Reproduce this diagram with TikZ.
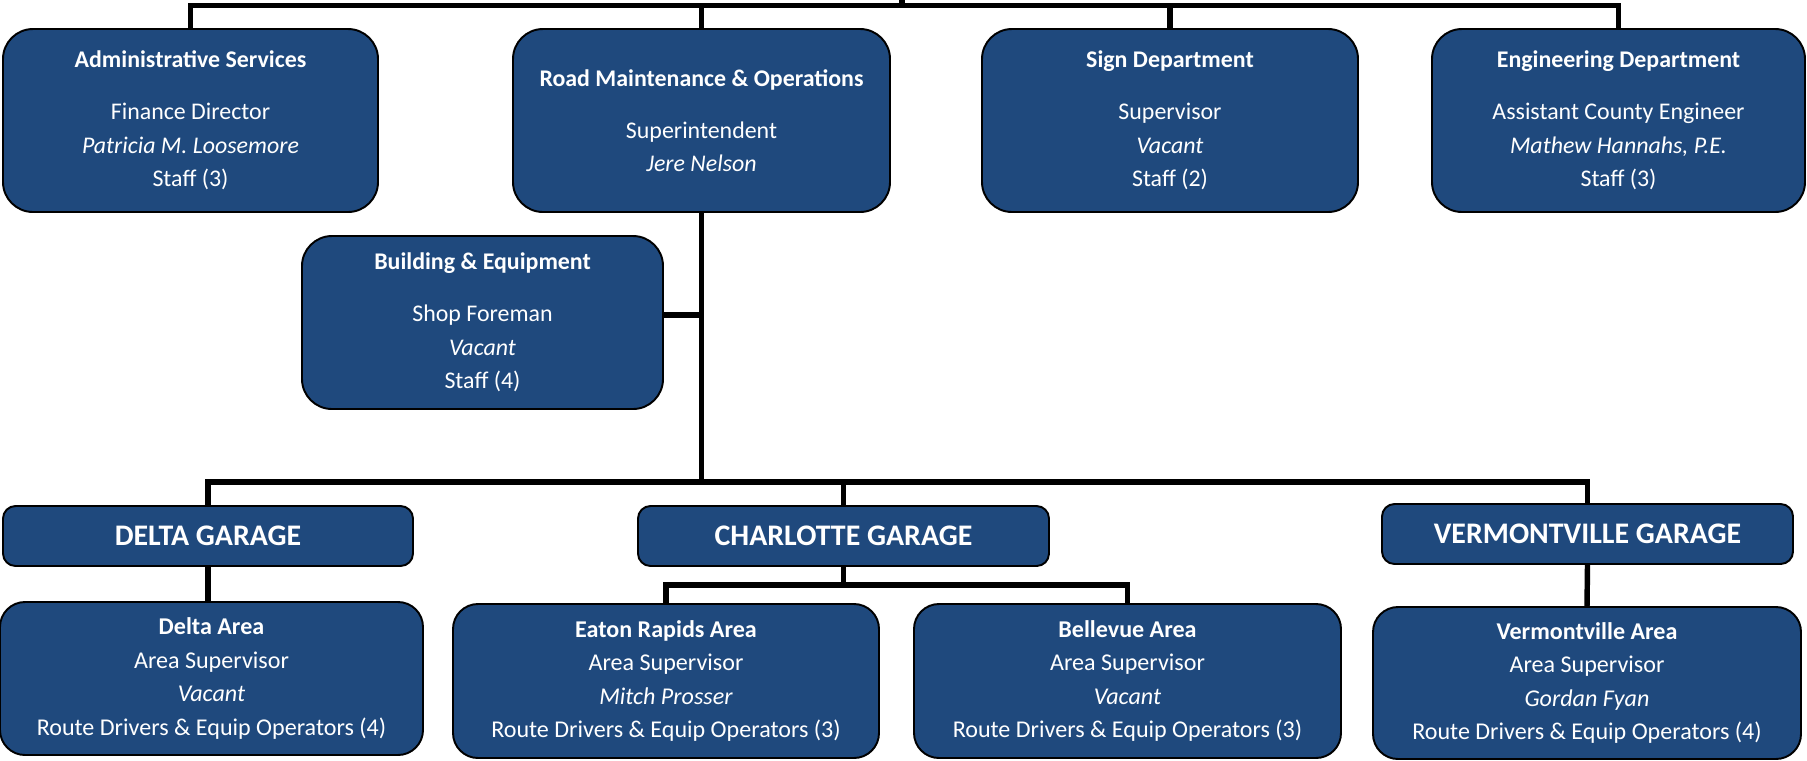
\documentclass[tikz,border=0pt]{standalone}
\usepackage{fontspec}
\setmainfont{Carlito}
\usepackage{tikz}
\definecolor{countyblue}{RGB}{31,73,125}

\begin{document}
\begin{tikzpicture}[dept/.style={draw=black,line width=1.1pt,fill=countyblue,text=white,align=center,inner sep=0pt,
		rounded corners=0.6cm,minimum width=7.5cm,minimum height=3.66cm,font=\fontsize{13.6}{19}\selectfont},
	garage/.style={draw=black,line width=1.1pt,fill=countyblue,text=white,inner sep=0pt,
		rounded corners=0.25cm,minimum width=8.2cm,minimum height=1.2cm,font=\bfseries\fontsize{17}{20}\selectfont},
	area/.style={draw=black,line width=1.1pt,fill=countyblue,text=white,align=center,inner sep=0pt,
		rounded corners=0.5cm,minimum width=8.5cm,minimum height=3.06cm,font=\fontsize{13.7}{19}\selectfont},
	link/.style={line width=3.1pt},
	]
	\useasboundingbox (0,0) rectangle (36.14,-15.2);
	%Top row
	\node[dept] (admin) at (3.81,-2.41) {\textbf{Administrative Services}\\[10.5pt]Finance Director\\\textit{Patricia M. Loosemore}\\Staff (3)};
	\node[dept,minimum width=7.54cm] (road) at (14.03,-2.41) {\textbf{Road Maintenance \& Operations}\\[10.5pt]Superintendent\\\textit{Jere Nelson}};
	\node[dept,minimum width=7.52cm] (sign) at (23.4,-2.41) {\textbf{Sign Department}\\[10.5pt]Supervisor\\\textit{Vacant}\\Staff (2)};
	\node[dept,minimum width=7.46cm] (eng) at (32.37,-2.41) {\textbf{Engineering Department}\\[10.5pt]Assistant County Engineer\\\textit{Mathew Hannahs, P.E.}\\Staff (3)};
	\node[dept,minimum width=7.22cm,minimum height=3.46cm] (build) at (9.65,-6.45) {\textbf{Building \& Equipment}\\[10.5pt]Shop Foreman\\\textit{Vacant}\\Staff (4)};
	\coordinate (top) at (18.04,-0.11);
	\coordinate (root) at (18.04,0);
	\coordinate (bus) at (14.03,-9.64);
	\coordinate (split) at (16.87,-11.7);
	%Garages
	\node[garage] (dgar) at (4.16,-10.72) {DELTA GARAGE};
	\node[garage,minimum width=8.22cm] (cgar) at (16.87,-10.72) {CHARLOTTE GARAGE};
	\node[garage,minimum width=8.22cm] (vgar) at (31.75,-10.68) {VERMONTVILLE GARAGE};
	%Areas
	\node[area,minimum width=8.46cm] (darea) at (4.23,-13.57) {\textbf{Delta Area}\\Area Supervisor\\\textit{Vacant}\\Route Drivers \& Equip Operators (4)};
	\node[area,minimum width=8.52cm,minimum height=3.08cm] (eaton) at (13.32,-13.62) {\textbf{Eaton Rapids Area}\\Area Supervisor\\\textit{Mitch Prosser}\\Route Drivers \& Equip Operators (3)};
	\node[area,minimum width=8.54cm,minimum height=3.08cm] (bell) at (22.55,-13.62) {\textbf{Bellevue Area}\\Area Supervisor\\\textit{Vacant}\\Route Drivers \& Equip Operators (3)};
	\node[area,minimum width=8.56cm,minimum height=3.04cm] (varea) at (31.74,-13.66) {\textbf{Vermontville Area}\\Area Supervisor\\\textit{Gordan Fyan}\\Route Drivers \& Equip Operators (4)};
	%connectors
	\draw[link] (admin.north) |- (top) -| (eng.north);
	\draw[link] (root) -- (top);
	\draw[link] (road.north) -- (road.north |- top);
	\draw[link] (sign.north) -- (sign.north |- top);
	\draw[link] (road.south) -- (bus);
	\draw[link] ([yshift=0.15cm]build.east) -- ([yshift=0.15cm]build.east -| road.south);
	\draw[link] (dgar.north) |- (bus) -| (vgar.north);
	\draw[link] (cgar.north) -- (cgar.north |- bus);
	\draw[link] (dgar.south) -- (dgar.south |- darea.north);
	\draw[link] (cgar.south) -- (split);
	\draw[link] (eaton.north) |- (split) -| (bell.north);
	\draw[link] (vgar.south) -- (varea.north);
\end{tikzpicture}
\end{document}
